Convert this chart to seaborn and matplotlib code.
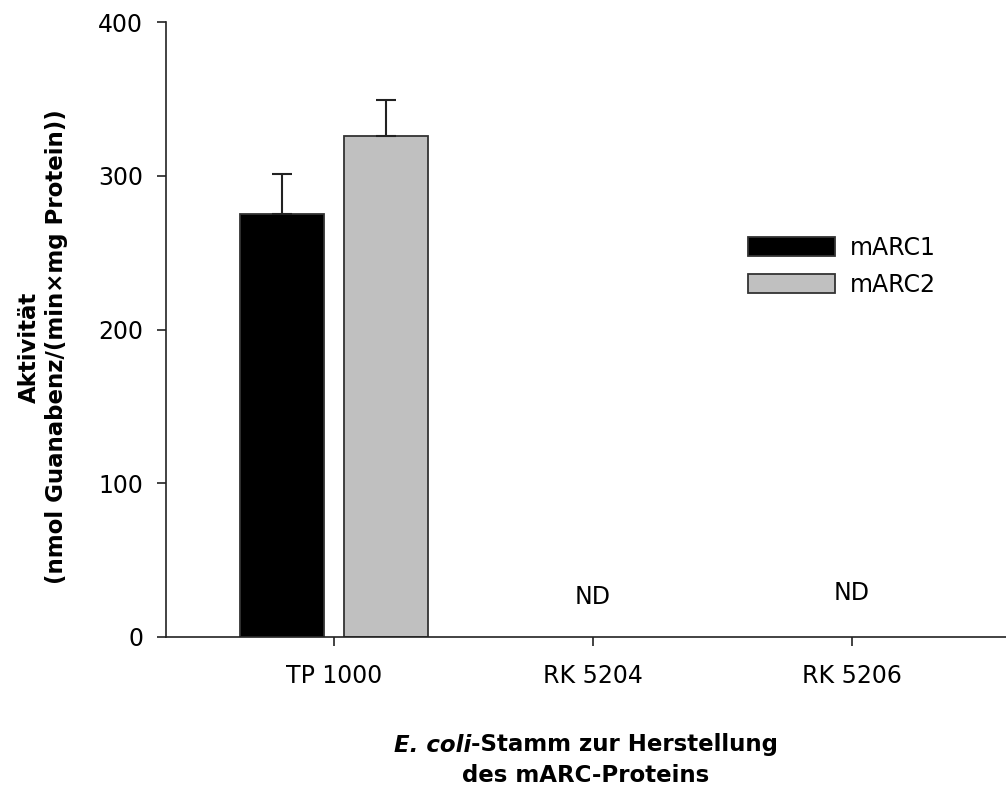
import numpy as np
import pandas as pd
import seaborn as sns
import matplotlib.pyplot as plt

strains = ["TP 1000", "RK 5204", "RK 5206"]
proteins = ["mARC1", "mARC2"]
marc1_mean = [275, np.nan, np.nan]
marc2_mean = [326, np.nan, np.nan]
marc1_sd = [26, np.nan, np.nan]
marc2_sd = [23, np.nan, np.nan]
nd_labels = ["", "ND", "ND"]

colors = ["#000000", "#c0c0c0"]

df = pd.DataFrame({
    "strain": strains * 2,
    "protein": ["mARC1"] * 3 + ["mARC2"] * 3,
    "value": marc1_mean + marc2_mean,
    "sd": marc1_sd + marc2_sd,
})

sns.set_style("ticks")
plt.rcParams["font.family"] = ["DejaVu Sans"]
plt.rcParams["text.color"] = "black"
plt.rcParams["xtick.labelcolor"] = "black"
plt.rcParams["ytick.labelcolor"] = "black"

fig = plt.figure(figsize=(10.06, 7.92), dpi=100)
ax = fig.add_axes([166 / 1006, 1 - 637 / 792, 1 - 166 / 1006, (637 - 22) / 792])

sns.barplot(
    data=df.dropna(), x="strain", y="value", hue="protein",
    order=strains, hue_order=proteins, palette=colors,
    width=0.8, gap=0.19, errorbar=None,
    edgecolor="#333333", linewidth=1.3, ax=ax,
)

# one-sided error bars on top of each bar
for container, sds in zip(ax.containers, [marc1_sd, marc2_sd]):
    for bar in container:
        cx = bar.get_x() + bar.get_width() / 2
        i = int(round(cx))
        ax.errorbar(cx, bar.get_height(), yerr=[[0], [sds[i]]], fmt="none",
                    ecolor="#222222", elinewidth=1.5, capsize=7.3, capthick=1.5)

for i, lab in enumerate(nd_labels):
    if lab:
        ax.text(i, 26 if i == 1 else 28.5, lab, ha="center", va="center", fontsize=17)

ax.set_ylim(0, 400)
ax.set_yticks([0, 100, 200, 300, 400])
ax.set_xlim(-0.649, 2.595)
sns.despine(ax=ax)
for s in ["left", "bottom"]:
    ax.spines[s].set_linewidth(1.2)
    ax.spines[s].set_color("#222222")
ax.tick_params(axis="both", length=6.5, width=1.2, color="#222222", labelsize=17)
ax.tick_params(axis="y", pad=10)
ax.tick_params(axis="x", pad=13)
ax.set_xlabel("")
ax.set_ylabel("")

fig.text(43 / 1006, 1 - 347 / 792, "Aktivität\n(nmol Guanabenz/(min×mg Protein))",
         rotation=90, ha="center", va="center", fontsize=16.5, fontweight="bold",
         multialignment="center", linespacing=1.25)

# x label: italic "E. coli" followed by upright bold text, centred as one line
renderer = fig.canvas.get_renderer()
y1 = 1 - 745 / 792
t_it = fig.text(0, y1, "E. coli", ha="left", va="center", fontsize=16.5,
                fontweight="bold", style="italic")
t_rest = fig.text(0, y1, "-Stamm zur Herstellung", ha="left", va="center",
                  fontsize=16.5, fontweight="bold")
w_it = t_it.get_window_extent(renderer).width
w_rest = t_rest.get_window_extent(renderer).width
x0 = 586 - (w_it + w_rest) / 2
t_it.set_x(x0 / 1006)
t_rest.set_x((x0 + w_it) / 1006)
fig.text(586 / 1006, 1 - 776 / 792, "des mARC-Proteins", ha="center", va="center",
         fontsize=16.5, fontweight="bold")

ax.legend(loc="upper left", bbox_to_anchor=(748 / 1006, 1 - 236 / 792),
          bbox_transform=fig.transFigure, frameon=False, fontsize=17,
          handlelength=3.7, handleheight=0.85, borderpad=0, borderaxespad=0,
          labelspacing=0.55, handletextpad=0.6, title=None)

fig.savefig("out.png", dpi=100)
